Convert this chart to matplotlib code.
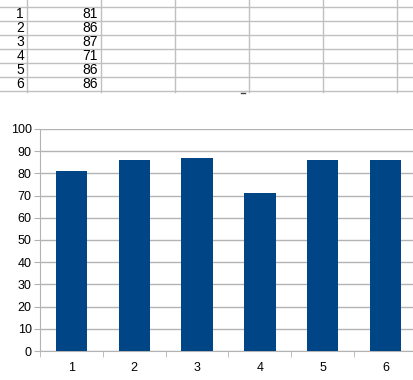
import matplotlib.pyplot as plt

rows = [1, 2, 3, 4, 5, 6]
values = [81, 86, 87, 71, 86, 86]
yticks = [0, 10, 20, 30, 40, 50, 60, 70, 80, 90, 100]

W, H = 414, 380
plt.rcParams['font.family'] = ['Liberation Sans', 'DejaVu Sans']

fig = plt.figure(figsize=(W / 100, H / 100), dpi=100)
fig.patch.set_facecolor('white')

# spreadsheet part (pixel coordinates)
sheet = fig.add_axes([0, 0, 1, 1])
sheet.set_xlim(0, W)
sheet.set_ylim(H, 0)
sheet.axis('off')
grid_c = '#c0c0c0'
for x in [27, 101, 175, 249, 323, 397]:
    sheet.plot([x, x], [0, 92], color=grid_c, lw=1)
for y in [7, 21, 35, 49, 63, 77, 91]:
    sheet.plot([0, W], [y, y], color=grid_c, lw=1)
for i, (r, v) in enumerate(zip(rows, values)):
    yc = 14.5 + 14 * i
    sheet.text(24, yc, str(r), ha='right', va='center', fontsize=10)
    sheet.text(98, yc, str(v), ha='right', va='center', fontsize=10)
sheet.plot([241, 245], [93, 93], color='#444444', lw=1)

# chart
ax = fig.add_axes([40 / W, (H - 351) / H, 377 / W, 222 / H])
ax.bar(range(len(rows)), values, width=0.5, color='#004586', zorder=3)
ax.set_xlim(-0.5, len(rows) - 0.5)
ax.set_ylim(0, 100)
ax.set_yticks(yticks)
ax.set_xticks(range(len(rows)))
ax.set_xticklabels([str(r) for r in rows])
ax.set_xticks([i - 0.5 for i in range(len(rows) + 1)], minor=True)
ax.yaxis.grid(True, color='#b3b3b3', lw=1, zorder=0)
for s in ['top', 'right']:
    ax.spines[s].set_visible(False)
ax.spines['left'].set_color('#b3b3b3')
ax.spines['bottom'].set_color('#b3b3b3')
ax.tick_params(axis='y', length=4, color='#b3b3b3', labelsize=9, pad=2)
ax.tick_params(axis='x', which='major', length=0, labelsize=9, pad=8)
ax.tick_params(axis='x', which='minor', length=4, color='#b3b3b3')

fig.savefig('out.png', dpi=100)
